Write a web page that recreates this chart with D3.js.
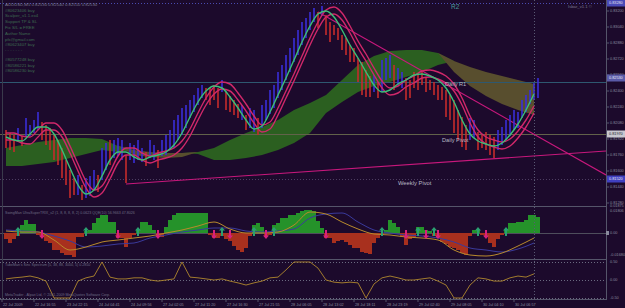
<!DOCTYPE html>
<html><head><meta charset="utf-8">
<script src="https://cdn.jsdelivr.net/npm/d3@7/dist/d3.min.js"></script>
<style>
body{margin:0;background:#1c0a2c;overflow:hidden}
svg{display:block}
text{font-family:"Liberation Sans",Arial,sans-serif}
</style></head>
<body><svg id="c" width="625" height="308"></svg>
<script>
// ---------- DATA ----------
const barHigh = [0.8201,0.8198,0.8196,0.8203,0.8195,0.8213,0.8206,0.8211,0.8219,0.8209,
0.8206,0.8203,0.8196,0.8191,0.8183,0.8171,0.8161,0.8153,0.8156,0.8146,
0.8153,0.8155,0.8161,0.8156,0.8183,0.8188,0.8191,0.8191,0.8193,0.8191,
0.8176,0.8188,0.8186,0.8191,0.8183,0.8179,0.8191,0.8186,0.8181,0.8191,
0.8196,0.8201,0.8211,0.8216,0.8223,0.8226,0.8231,0.8236,0.8243,0.8246,
0.8243,0.8243,0.8246,0.8243,0.8251,0.8239,0.8235,0.8231,0.8227,0.8226,
0.8216,0.8223,0.8221,0.8213,0.8226,0.8231,0.8241,0.8246,0.8259,0.8266,
0.8276,0.8283,0.8293,0.8301,0.8309,0.8313,0.8319,0.8323,0.8319,0.8325,
0.8316,0.8309,0.8306,0.8303,0.8296,0.8293,0.8286,0.8283,0.8273,0.8269,
0.8261,0.8255,0.8256,0.8249,0.8271,0.8273,0.8276,0.8266,0.8263,0.8259,
0.8253,0.8251,0.8259,0.8256,0.8259,0.8253,0.8251,0.8249,0.8246,0.8244,
0.8241,0.8236,0.8231,0.8221,0.8214,0.8206,0.8213,0.8211,0.8199,0.8196,
0.8199,0.8196,0.8194,0.8201,0.8204,0.8211,0.8216,0.8221,0.8219,0.8231,
0.8236,0.8241,0.8248,0.8253];
const barLow = [0.8183,0.8181,0.8179,0.8189,0.8185,0.8194,0.8195,0.8198,0.8201,0.8191,
0.8186,0.8181,0.8171,0.8166,0.8153,0.8146,0.8133,0.8136,0.8136,0.8131,
0.8133,0.8135,0.8141,0.8139,0.8151,0.8161,0.8166,0.8173,0.8175,0.8171,
0.8148,0.8171,0.8168,0.8171,0.8169,0.8165,0.8173,0.8171,0.8163,0.8175,
0.8176,0.8181,0.8183,0.8191,0.8196,0.8203,0.8213,0.8219,0.8226,0.8233,
0.8231,0.8226,0.8231,0.8223,0.8239,0.8221,0.8219,0.8216,0.8213,0.8211,
0.8201,0.8203,0.8199,0.8196,0.8203,0.8211,0.8217,0.8223,0.8233,0.8241,
0.8251,0.8259,0.8269,0.8276,0.8286,0.8293,0.8301,0.8309,0.8303,0.8315,
0.8296,0.8289,0.8296,0.8291,0.8281,0.8276,0.8269,0.8269,0.8249,0.8236,
0.8234,0.8234,0.8239,0.8233,0.8239,0.8251,0.8253,0.8241,0.8246,0.8243,
0.8231,0.8233,0.8243,0.8241,0.8246,0.8239,0.8241,0.8236,0.8231,0.8231,
0.8214,0.8211,0.8198,0.8191,0.8184,0.8181,0.8191,0.8193,0.8181,0.8183,
0.8181,0.8176,0.8173,0.8181,0.8186,0.8191,0.8195,0.8201,0.8203,0.8213,
0.8219,0.8227,0.8231,0.8233];
const barDir = "ddduduuuud"+"ddddddddud"+"uuuduuduuu"+"duuuuduudu"+"uuuuuuuuuu"+
  "dddduddddu"+"duuduuuuuu"+"uuuuuuuudu"+"dddddddddd"+"dduduuuduu"+
  "dddddddddd"+"dddddduudd"+"ddduuuuuuu"+"uuuu";
// moving averages, one value every 2 bars
const maFast = [0.8194,0.8191,0.8190,0.8197,0.8204,0.8204,0.8197,0.8181,0.8163,0.8146,
0.8137,0.8141,0.8155,0.8171,0.8179,0.8179,0.8174,0.8171,0.8174,0.8176,
0.8179,0.8186,0.8198,0.8214,0.8229,0.8240,0.8245,0.8243,0.8234,0.8223,
0.8211,0.8202,0.8205,0.8219,0.8236,0.8253,0.8271,0.8289,0.8305,0.8317,
0.8320,0.8314,0.8301,0.8286,0.8273,0.8259,0.8246,0.8239,0.8241,0.8247,
0.8251,0.8256,0.8257,0.8255,0.8251,0.8243,0.8229,0.8211,0.8197,0.8190,
0.8187,0.8185,0.8188,0.8196,0.8207,0.8221,0.8237];
const maHigh = [0.8198,0.8198,0.8195,0.8194,0.8201,0.8208,0.8208,0.8201,0.8185,0.8167,
0.8150,0.8141,0.8145,0.8159,0.8175,0.8183,0.8183,0.8178,0.8175,0.8178,
0.8180,0.8183,0.8190,0.8202,0.8218,0.8233,0.8244,0.8249,0.8247,0.8238,
0.8227,0.8215,0.8206,0.8209,0.8223,0.8240,0.8257,0.8275,0.8293,0.8309,
0.8321,0.8324,0.8318,0.8305,0.8290,0.8277,0.8263,0.8250,0.8243,0.8245,
0.8251,0.8255,0.8260,0.8261,0.8259,0.8255,0.8247,0.8233,0.8215,0.8201,
0.8194,0.8191,0.8189,0.8192,0.8200,0.8211,0.8225];
const maLow = [0.8191,0.8191,0.8188,0.8187,0.8194,0.8201,0.8201,0.8194,0.8178,0.8160,
0.8143,0.8134,0.8138,0.8152,0.8168,0.8176,0.8176,0.8171,0.8168,0.8171,
0.8173,0.8176,0.8183,0.8195,0.8211,0.8226,0.8237,0.8242,0.8240,0.8231,
0.8220,0.8208,0.8199,0.8202,0.8216,0.8233,0.8250,0.8268,0.8286,0.8302,
0.8314,0.8317,0.8311,0.8298,0.8283,0.8270,0.8256,0.8243,0.8236,0.8238,
0.8244,0.8248,0.8253,0.8254,0.8252,0.8248,0.8240,0.8226,0.8208,0.8194,
0.8187,0.8184,0.8182,0.8185,0.8193,0.8204,0.8218];
// cloud, one value every 4 bars
const spanA = [0.8183,0.8186,0.8189,0.8191,0.8193,0.8193,0.8192,0.8185,0.8176,0.8174,
0.8173,0.8174,0.8179,0.8183,0.8191,0.8198,0.8204,0.8211,0.8221,0.8228,
0.8236,0.8251,0.8266,0.8275,0.8280,0.8281,0.8281,0.8278,0.8259,0.8245,
0.8235,0.8227,0.8221,0.8216];
const spanB = [0.8165,0.8165,0.8167,0.8169,0.8173,0.8177,0.8181,0.8179,0.8181,0.8179,
0.8178,0.8178,0.8177,0.8171,0.8171,0.8173,0.8176,0.8181,0.8188,0.8198,
0.8218,0.8229,0.8239,0.8245,0.8249,0.8254,0.8259,0.8266,0.8270,0.8264,
0.8259,0.8255,0.8251,0.8247];
// levels and trendlines
const levelNames = ["R2","Daily R1","Daily Pivot","Weekly Pivot"];
const levelPrices = [0.8328,0.8249,0.8197,0.8152];
const trendDown = [[78,0.8319],[150,0.8156]];
const trendUp = [[30,0.8147],[150,0.8180]];
const lastPrice = 0.8253;
const priceTicks = [0.8320,0.8304,0.8288,0.8272,0.8256,0.8240,0.8224,0.8208,0.8192,0.8176,0.8160,0.8144,0.8128];
// indicator 1 (per bar histogram, lines every 4 bars)
const trixHist = [-0.0042,-0.0070,-0.0042,-0.0021,0.0056,0.0091,0.0063,0.0063,-0.0014,-0.0028,
-0.0056,-0.0070,-0.0119,-0.0119,-0.0140,-0.0154,-0.0154,-0.0168,-0.0028,-0.0028,
0.0014,0.0021,0.0070,0.0105,0.0126,0.0126,0.0077,0.0077,-0.0035,-0.0035,
-0.0098,-0.0035,-0.0014,0.0021,0.0077,0.0077,0.0056,0.0021,-0.0028,-0.0028,
0.0042,0.0091,0.0126,0.0140,0.0140,0.0140,0.0140,0.0140,0.0140,0.0140,
0.0140,-0.0014,-0.0035,-0.0035,-0.0021,-0.0042,-0.0056,-0.0091,-0.0119,-0.0133,
-0.0105,-0.0021,0.0056,0.0070,0.0042,-0.0021,-0.0014,0.0056,0.0070,0.0105,
0.0105,0.0126,0.0126,0.0140,0.0154,0.0161,0.0161,0.0154,0.0084,0.0035,
-0.0035,-0.0035,-0.0070,-0.0056,-0.0049,-0.0063,-0.0084,-0.0105,-0.0105,-0.0133,
-0.0140,-0.0147,-0.0070,-0.0035,-0.0014,0.0021,0.0091,0.0070,0.0042,-0.0028,
-0.0084,-0.0042,-0.0028,0.0042,0.0042,0.0021,0.0014,-0.0021,-0.0035,-0.0063,
-0.0077,-0.0098,-0.0105,-0.0119,-0.0140,-0.0154,-0.0021,0.0021,0.0021,-0.0014,
-0.0028,-0.0070,-0.0098,-0.0042,-0.0014,0.0021,0.0070,0.0070,0.0077,0.0077,
0.0091,0.0126,0.0126,0.0112];
const qqeFast = [0.0014,0.0007,0.0007,-0.0049,-0.0119,-0.0098,-0.0063,-0.0049,-0.0035,-0.0021,
0,0.0021,0.0049,0.0077,0.0028,0,0,0.0007,0.0056,0.0147,
0.0133,0.0077,0.0028,-0.0007,-0.0014,-0.0028,-0.0035,-0.0049,-0.0119,-0.0154,
-0.0161,-0.0140,-0.0091,-0.0035];
const qqeSlow = [0.0021,0.0014,0.0007,-0.0021,-0.0056,-0.0098,-0.0091,-0.0077,-0.0070,-0.0035,
-0.0014,0.0007,0.0021,0.0035,0.0035,0.0014,0.0007,0.0014,0.0028,0.0105,
0.0133,0.0140,0.0077,0.0021,0,-0.0014,-0.0021,-0.0035,-0.0063,-0.0105,
-0.0119,-0.0133,-0.0112,-0.0070];
const upSignals = [3,20,33,54,62,67,94,103,107,118,125];
const downSignals = [9,28,38,52,56,65,80,100,105,108,120];
// indicator 2 (one value every 2 bars)
const sineVals = [0.03,0.06,0.08,0.11,0.06,-0.03,-0.5,-0.5,-0.5,-0.03,
0.06,0.11,0.5,0.08,0.03,0.03,0.06,0.06,0.0,-0.03,
0.0,0.03,0.5,0.08,0.06,0.03,0.0,0.03,-0.03,-0.08,
-0.14,-0.08,-0.03,0.06,0.08,0.28,0.5,0.5,0.5,0.33,
0.0,-0.06,-0.08,-0.06,-0.08,-0.5,-0.11,0.06,0.11,0.06,
0.0,0.0,0.03,0.06,-0.03,-0.14,-0.5,-0.5,-0.14,0.06,
0.03,-0.03,-0.03,0.06,0.11,0.08,0.17];
const dateLabels = ["22 Jul 2009","22 Jul 16:55","23 Jul 22:15","24 Jul 04:41","24 Jul 09:56","27 Jul 02:05",
"27 Jul 11:20","27 Jul 16:30","27 Jul 21:55","28 Jul 06:05","28 Jul 13:02","28 Jul 18:11",
"28 Jul 23:19","29 Jul 02:40","29 Jul 08:05","30 Jul 04:10","30 Jul 06:57"];
const infoLines = ["AUDUSD,M5  0.82530 0.82540 0.82510 0.82530","#80623406 buy","Scalper_v1.1.ex4",
"Support TP & SL","Fix S/L = FREE","Author Name","pfx@gmail.com","#80623407 buy","- - - - - - -",
"#80577248 buy","#80586221 buy","#80586230 buy"];

// ---------- DRAW ----------
const svg = d3.select("#c");
const BG = "#1c0a2c", TXT = "#8a8a9c";
svg.append("rect").attr("width",625).attr("height",308).attr("fill",BG);

const x = d3.scaleLinear().domain([0,133]).range([6,538]);
const yP = d3.scaleLinear().domain([0.8126,0.8331]).range([205,0]);
const yH = d3.scaleLinear().domain([-0.0168,0.0189]).range([257,206]);
const yS = d3.scaleLinear().domain([-0.5,0.5]).range([298,262]);

const defs = svg.append("defs");
defs.append("clipPath").attr("id","cm").append("rect").attr("x",0).attr("y",0).attr("width",606).attr("height",205);
defs.append("clipPath").attr("id","c1").append("rect").attr("x",0).attr("y",207).attr("width",606).attr("height",51);
defs.append("clipPath").attr("id","c2").append("rect").attr("x",0).attr("y",260).attr("width",606).attr("height",39);

const main = svg.append("g").attr("clip-path","url(#cm)");

// cloud
const cloud = spanA.map((a,m)=>({i:m*4,a,b:spanB[m]}));
main.append("path").datum(cloud).attr("fill","#2b5f20")
  .attr("d",d3.area().x(d=>x(d.i)).y0(d=>yP(d.b)).y1(d=>yP(Math.max(d.a,d.b))));
main.append("path").datum(cloud).attr("fill","#584e2e")
  .attr("d",d3.area().x(d=>x(d.i)).y0(d=>yP(d.a)).y1(d=>yP(Math.max(d.a,d.b))));

// levels
const levelStyle = [
  {c:"#4a4ab0",dash:"1,2"},{c:"#2e5870",dash:null},{c:"#62624a",dash:null},{c:"#4e3e62",dash:"1,2"}];
levelPrices.forEach((p,k)=>{
  const l = main.append("line").attr("x1",0).attr("x2",606).attr("y1",Math.round(yP(p))+0.5).attr("y2",Math.round(yP(p))+0.5)
    .attr("stroke",levelStyle[k].c).attr("stroke-width",1);
  if(levelStyle[k].dash) l.attr("stroke-dasharray",levelStyle[k].dash);
});

// trendlines
[trendDown,trendUp].forEach(t=>{
  main.append("line").attr("x1",x(t[0][0])).attr("y1",yP(t[0][1])).attr("x2",x(t[1][0])).attr("y2",yP(t[1][1]))
    .attr("stroke","#c8187c").attr("stroke-width",1.1);
});

// bars
main.selectAll("rect.bar").data(barHigh).join("rect").attr("class","bar")
  .attr("x",(d,i)=>x(i)-0.8).attr("width",1.6)
  .attr("y",d=>yP(d)).attr("height",(d,i)=>Math.max(1,yP(barLow[i])-yP(d)))
  .attr("fill",(d,i)=>barDir[i]==="u"?"#3a2ed8":"#c42c2c");

// MA lines
const lineMA = arr => d3.line().curve(d3.curveMonotoneX).x((d,k)=>x(k*2)).y(d=>yP(d))(arr);
main.append("path").attr("d",lineMA(maHigh)).attr("fill","none").attr("stroke","#d0286a").attr("stroke-width",1.4);
main.append("path").attr("d",lineMA(maLow)).attr("fill","none").attr("stroke","#d0286a").attr("stroke-width",1.4);
main.append("path").attr("d",lineMA(maFast)).attr("fill","none").attr("stroke","#3cbf78").attr("stroke-width",1.4);

// level texts
const lvlTxt = [{k:1,x:445,dy:4,s:5.6},{k:2,x:442,dy:8,s:5.6},{k:3,x:398,dy:5.5,s:5.8}];
lvlTxt.forEach(o=>{
  main.append("text").attr("x",o.x).attr("y",yP(levelPrices[o.k])+o.dy).attr("font-size",o.s)
    .attr("fill","#b8b8c4").text(levelNames[o.k]);
});
svg.append("text").attr("x",451).attr("y",9).attr("font-size",6.5).attr("fill","#4a9a9a").text(levelNames[0]);
svg.append("text").attr("x",568).attr("y",8).attr("font-size",4.2).attr("fill","#7a7a8c").text("Isbar_v1.1 \u00A9");

// info text block
const infoY = [5.5,12,17,23,29,35,40.5,45.5,51,61,67,72];
infoLines.forEach((t,k)=>{
  svg.append("text").attr("x",5).attr("y",infoY[k]).attr("font-size",4.3)
    .attr("fill",k===0?"#7c7c8c":"#3e6a50").text(t);
});

// ----- panel 1 -----
const p1 = svg.append("g").attr("clip-path","url(#c1)");
p1.append("line").attr("x1",0).attr("x2",606).attr("y1",yH(0)+0.5).attr("y2",yH(0)+0.5).attr("stroke","#4e4e5c");
p1.selectAll("rect.h").data(trixHist).join("rect").attr("class","h")
  .attr("x",(d,i)=>x(i)-2).attr("width",4)
  .attr("y",d=>d>=0?yH(d):yH(0)).attr("height",d=>Math.abs(yH(d)-yH(0)))
  .attr("fill",d=>d>=0?"#25922a":"#a8301e");
const lineQ = arr => d3.line().curve(d3.curveMonotoneX).x((d,m)=>x(m*4)).y(d=>yH(d))(arr);
p1.append("path").attr("d",lineQ(qqeSlow)).attr("fill","none").attr("stroke","#3a3a9c").attr("stroke-width",1);
p1.append("path").attr("d",lineQ(qqeFast)).attr("fill","none").attr("stroke","#b88a2c").attr("stroke-width",1);
const arrowUp = "M0,-5 L-3,-1.5 L-1,-1.5 L-1,4 L1,4 L1,-1.5 L3,-1.5 Z";
upSignals.forEach(i=>p1.append("path").attr("d",arrowUp).attr("transform",`translate(${x(i)},${yH(0)-1})`).attr("fill","#2aa070"));
downSignals.forEach(i=>p1.append("path").attr("d",arrowUp).attr("transform",`translate(${x(i)},${yH(0)+1}) scale(1,-1)`).attr("fill","#d8207c"));
svg.append("text").attr("x",5).attr("y",214).attr("font-size",3.6).attr("fill","#6c6c84")
  .text("SwingMan UltraSuperTRIX_v2 (1, 8, 8, 8, 8, 2) 0.0623   QQE(10) 56.9663 47.8026");

// ----- panel 2 -----
const p2 = svg.append("g").attr("clip-path","url(#c2)");
[0.5,0,-0.5].forEach(v=>p2.append("line").attr("x1",0).attr("x2",606).attr("y1",Math.round(yS(v))+0.5).attr("y2",Math.round(yS(v))+0.5)
  .attr("stroke","#6a6a80").attr("stroke-dasharray","1,2"));
p2.append("path").attr("d",d3.line().x((d,k)=>x(k*2)).y(d=>yS(d))(sineVals)).attr("fill","none").attr("stroke","#b0882e").attr("stroke-width",0.9);
svg.append("text").attr("x",5).attr("y",266).attr("font-size",3.6).attr("fill","#6c6c84")
  .text("TubeMan's Sinc Spectrum (5, 38, 88, 3000, 5) 0.2850");
svg.append("text").attr("x",5).attr("y",296).attr("font-size",3.6).attr("fill","#6c6c84")
  .text("MetaTrader - Alpari Ltd, \u00A9 2001-2009 MetaQuotes Software Corp.");

// ----- frames & separators -----
[206,259,299].forEach(yy=>{
  svg.append("line").attr("x1",0).attr("x2",607).attr("y1",yy+0.5).attr("y2",yy+0.5).attr("stroke","#55556a");
});
svg.append("line").attr("x1",606.5).attr("x2",606.5).attr("y1",0).attr("y2",299).attr("stroke","#55556a");
svg.append("line").attr("x1",2.5).attr("x2",2.5).attr("y1",0).attr("y2",299).attr("stroke","#3a3a4c");
svg.append("line").attr("x1",x(132)+0.5).attr("x2",x(132)+0.5).attr("y1",0).attr("y2",299)
  .attr("stroke","#5a5a74").attr("stroke-dasharray","1,2");

// right price axis
const fmt = d3.format(".5f");
priceTicks.forEach(p=>{
  const yy = yP(p);
  svg.append("line").attr("x1",606).attr("x2",609).attr("y1",yy).attr("y2",yy).attr("stroke","#55556a");
  svg.append("text").attr("x",610).attr("y",yy+1.3).attr("font-size",3.8).attr("fill",TXT).text(fmt(p));
});
const boxes = [[levelPrices[0],"#4a4ab8","#e0e0f0"],[lastPrice,"#5a5aa8","#e8e8f4"],[levelPrices[2],"#c8c8d0","#202028"],[levelPrices[3],"#4040c0","#e8e8f4"]];
boxes.forEach(([p,bg,fg])=>{
  const yy = yP(p);
  svg.append("rect").attr("x",607).attr("y",yy-3.5).attr("width",18).attr("height",7).attr("fill",bg);
  svg.append("text").attr("x",609).attr("y",yy+1.4).attr("font-size",3.8).attr("fill",fg).text(fmt(p));
});
[[0.0189,"0.01875"],[0.0154,"0.01806"],[0,"0.00"],[-0.0154,"-0.01680"]].forEach(([v,t])=>{
  svg.append("text").attr("x",610).attr("y",yH(v)+1.3).attr("font-size",3.8).attr("fill",TXT).text(t);
});
svg.append("rect").attr("x",606).attr("y",yH(0)-2).attr("width",3).attr("height",4).attr("fill","#8a8a9c");
[0.5,0,-0.5].forEach(v=>{
  svg.append("text").attr("x",610).attr("y",yS(v)+1.3).attr("font-size",3.8).attr("fill",TXT).text(v.toFixed(2));
});
dateLabels.forEach((t,j)=>{
  const xx = x(8*j-1);
  svg.append("line").attr("x1",xx).attr("x2",xx).attr("y1",299).attr("y2",302).attr("stroke","#55556a");
  svg.append("text").attr("x",xx+1).attr("y",306).attr("font-size",3.8).attr("fill",TXT).text(t);
});
</script></body></html>
